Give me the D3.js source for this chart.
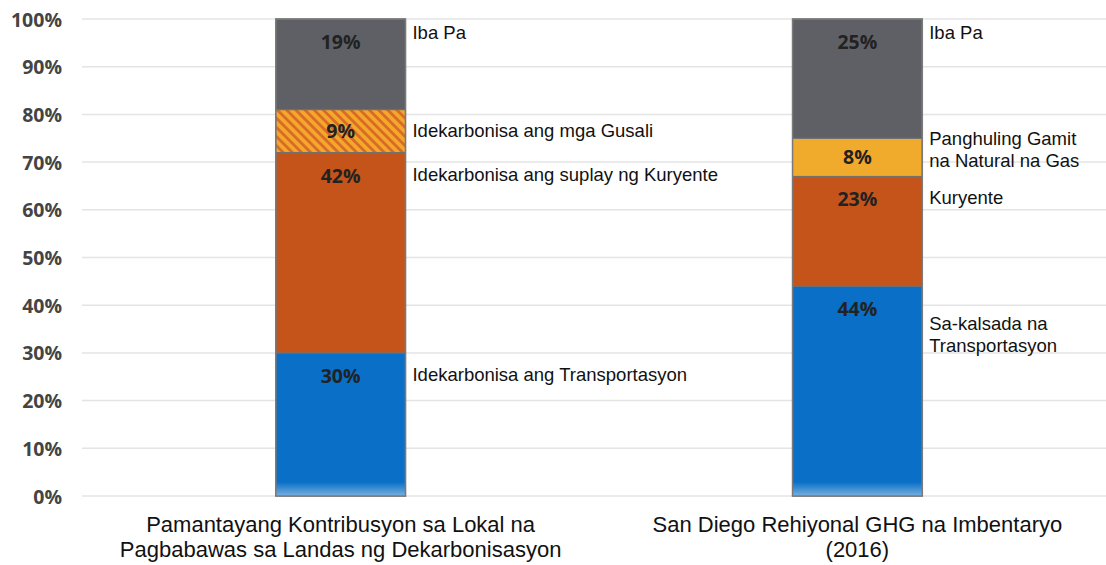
<!DOCTYPE html>
<html>
<head>
<meta charset="utf-8">
<script src="https://cdn.jsdelivr.net/npm/d3@7"></script>
<style>
  html, body { margin: 0; padding: 0; background: #fff; }
  svg { display: block; }
</style>
</head>
<body>
<svg id="chart" width="1106" height="565"></svg>
<script>
// ---------- DATA ----------
const categories = [
  ["Pamantayang Kontribusyon sa Lokal na", "Pagbabawas sa Landas ng Dekarbonisasyon"],
  ["San Diego Rehiyonal GHG na Imbentaryo", "(2016)"]
];
const yTicks = [0, 10, 20, 30, 40, 50, 60, 70, 80, 90, 100];

// segments from bottom to top
const bar1Values = [30, 42, 9, 19];
const bar1Names = [
  ["Idekarbonisa ang Transportasyon"],
  ["Idekarbonisa ang suplay ng Kuryente"],
  ["Idekarbonisa ang mga Gusali"],
  ["Iba Pa"]
];
const bar2Values = [44, 23, 8, 25];
const bar2Names = [
  ["Sa-kalsada na", "Transportasyon"],
  ["Kuryente"],
  ["Panghuling Gamit", "na Natural na Gas"],
  ["Iba Pa"]
];
const bar1Fills = ["#0a6fc6", "#c5541b", "url(#hatch)", "#5f6066"];
const bar2Fills = ["#0a6fc6", "#c5541b", "#f0aa2c", "#5f6066"];

// ---------- CHART ----------
const svg = d3.select("#chart");
const defs = svg.append("defs");

const pat = defs.append("pattern")
  .attr("id", "hatch")
  .attr("patternUnits", "userSpaceOnUse")
  .attr("width", 6.5).attr("height", 6.5)
  .attr("patternTransform", "rotate(-45)");
pat.append("rect").attr("width", 6.5).attr("height", 6.5).attr("fill", "#f3a82b");
pat.append("rect").attr("width", 2.8).attr("height", 6.5).attr("fill", "#d96a27");

const fade = defs.append("linearGradient")
  .attr("id", "fade").attr("x1", 0).attr("y1", 0).attr("x2", 0).attr("y2", 1);
fade.append("stop").attr("offset", "0%").attr("stop-color", "#ffffff").attr("stop-opacity", 0);
fade.append("stop").attr("offset", "100%").attr("stop-color", "#ffffff").attr("stop-opacity", 0.45);

const x = d3.scaleBand()
  .domain([0, 1])
  .range([82, 1116])
  .paddingInner(0.749)
  .paddingOuter(0.375);

const y = d3.scaleLinear().domain([0, 100]).range([496, 19]);

// gridlines
svg.append("g").selectAll("line")
  .data(yTicks)
  .join("line")
  .attr("x1", 82).attr("x2", 1106)
  .attr("y1", d => y(d)).attr("y2", d => y(d))
  .attr("stroke", "#e4e4e4").attr("stroke-width", 1.5);

// y axis labels
const yAxis = d3.axisLeft(y).tickValues(yTicks).tickFormat(d => d + "%").tickSize(0).tickPadding(0);
const yg = svg.append("g").attr("transform", "translate(62,0)").call(yAxis);
yg.select(".domain").remove();
yg.selectAll("text")
  .attr("font-family", "'Open Sans', sans-serif")
  .attr("font-weight", "bold")
  .attr("font-size", 19.5)
  .attr("fill", "#444")
  .attr("dy", "0.36em");

const bars = [
  { values: bar1Values, names: bar1Names, fills: bar1Fills },
  { values: bar2Values, names: bar2Names, fills: bar2Fills }
];

bars.forEach((b, i) => {
  const g = svg.append("g");
  const x0 = x(i), bw = x.bandwidth();
  let cum = 0;
  const segs = b.values.map((v, k) => {
    const s = { v, lo: cum, hi: cum + v, name: b.names[k], fill: b.fills[k], isTop: k === b.values.length - 1 };
    cum += v;
    return s;
  });

  // shadow
  g.append("rect")
    .attr("x", x0 + 1).attr("y", y(100) + 1)
    .attr("width", bw).attr("height", y(0) - y(100))
    .attr("fill", "#000").attr("opacity", 0.12);

  g.selectAll("rect.seg")
    .data(segs)
    .join("rect")
    .attr("class", "seg")
    .attr("x", x0).attr("width", bw)
    .attr("y", d => y(d.hi)).attr("height", d => y(d.lo) - y(d.hi))
    .attr("fill", d => d.fill)
    .attr("stroke", "#707070").attr("stroke-width", 1);

  // bottom fade
  g.append("rect")
    .attr("x", x0).attr("width", bw)
    .attr("y", y(0) - 14).attr("height", 14)
    .attr("fill", "url(#fade)");

  // outline
  g.append("rect")
    .attr("x", x0).attr("y", y(100))
    .attr("width", bw).attr("height", y(0) - y(100))
    .attr("fill", "none").attr("stroke", "#7a7a7a").attr("stroke-width", 1.5);

  // percent labels
  g.selectAll("text.pct")
    .data(segs)
    .join("text")
    .attr("class", "pct")
    .attr("x", x0 + bw / 2)
    .attr("y", d => d.v < 10 ? (y(d.lo) + y(d.hi)) / 2 + 7 : y(d.hi) + 30)
    .attr("text-anchor", "middle")
    .attr("font-family", "'Open Sans', sans-serif")
    .attr("font-weight", "bold")
    .attr("font-size", 19.5)
    .attr("fill", "#222")
    .text(d => d.v + "%");

  // right-side names
  segs.forEach(d => {
    const n = d.name.length;
    let first;
    if (d.v < 10) {
      const mid = (y(d.lo) + y(d.hi)) / 2;
      first = n > 1 ? mid - 12 : mid + 6;
    } else if (d.isTop) {
      first = y(d.hi) + 20;
    } else {
      first = y(d.hi) + (n > 1 ? 44 : 28);
    }
    const t = g.append("text")
      .attr("x", x0 + bw + 7)
      .attr("y", first)
      .attr("font-family", "'Liberation Sans', Arial, sans-serif")
      .attr("font-size", 18.5)
      .attr("fill", "#111");
    d.name.forEach((line, j) => {
      t.append("tspan").attr("x", x0 + bw + 7).attr("dy", j === 0 ? 0 : 22).text(line);
    });
  });

  // category label
  const ct = svg.append("text")
    .attr("x", x0 + bw / 2).attr("y", 532)
    .attr("text-anchor", "middle")
    .attr("font-family", "'Liberation Sans', Arial, sans-serif")
    .attr("font-size", 22)
    .attr("fill", "#111");
  categories[i].forEach((line, j) => {
    ct.append("tspan").attr("x", x0 + bw / 2).attr("dy", j === 0 ? 0 : 25).text(line);
  });
});
</script>
</body>
</html>
